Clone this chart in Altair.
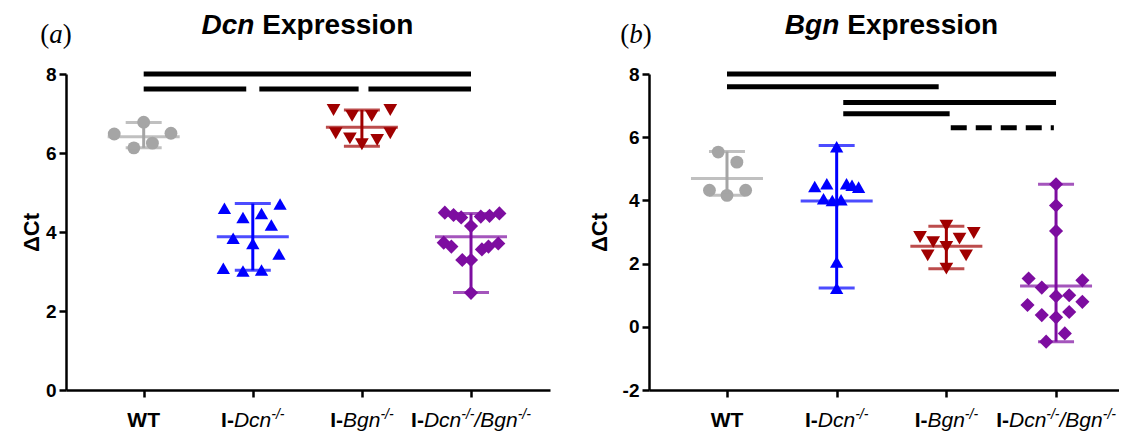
import altair as alt
import pandas as pd

# ---------------- data ----------------
groups = ["WT", "I-Dcn-/-", "I-Bgn-/-", "I-Dcn-/-/Bgn-/-"]
group_colors = ["#A5A5A5", "#0000FF", "#A00000", "#7D0DA0"]
group_shapes = ["circle", "triangle-up", "triangle-down", "diamond"]
group_sizes = [165, 200, 200, 175]

# Panel (a): Dcn expression (ΔCt) and horizontal scatter offsets (category units)
a_wt = [6.78, 6.48, 6.50, 6.13, 6.25]
a_wt_off = [0.0, -0.27, 0.25, -0.09, 0.08]
a_dcn = [4.60, 4.71, 4.37, 4.47, 4.18, 3.84, 3.71, 3.44, 3.08, 3.01, 3.04]
a_dcn_off = [-0.26, 0.25, -0.09, 0.08, 0.17, -0.18, 0.0, 0.24, -0.27, -0.09, 0.08]
a_bgn = [7.09, 6.94, 6.94, 7.09, 6.50, 6.37, 6.22, 6.33, 6.50]
a_bgn_off = [-0.26, -0.09, 0.09, 0.26, -0.24, -0.11, 0.0, 0.14, 0.26]
a_dkd = [4.49, 4.43, 4.37, 4.39, 4.41, 4.47, 4.15, 3.73, 3.63, 3.56, 3.63, 3.71, 3.29, 3.29, 2.46]
a_dkd_off = [-0.24, -0.16, -0.09, 0.09, 0.17, 0.26, 0.0, -0.25, -0.18, 0.10, 0.16, 0.25, -0.08, 0.0, 0.0]
a_center = [6.41, 3.88, 6.65, 3.88]
a_low = [6.13, 3.03, 6.17, 2.47]
a_high = [6.77, 4.72, 7.09, 4.47]
a_sig_start = [0, 0, 1.06, 2.06]
a_sig_end = [3, 0.94, 1.97, 3]
a_sig_level = [8.0, 7.62, 7.62, 7.62]
a_sig_style = ["solid", "solid", "solid", "solid"]

# Panel (b): Bgn expression (ΔCt)
b_wt = [5.53, 5.21, 4.32, 4.16, 4.32]
b_wt_off = [-0.08, 0.09, -0.16, 0.0, 0.17]
b_dcn = [4.44, 4.53, 4.53, 4.48, 4.42, 4.05, 4.00, 4.02, 5.70, 2.05, 1.22]
b_dcn_off = [-0.20, -0.09, 0.09, 0.14, 0.20, -0.12, -0.04, 0.04, 0.0, 0.0, 0.0]
b_bgn = [3.20, 2.84, 2.68, 2.79, 2.97, 2.26, 2.53, 2.26, 1.84]
b_bgn_off = [0.0, -0.24, -0.12, 0.12, 0.25, -0.17, 0.0, 0.18, 0.0]
b_dkd = [4.51, 3.84, 3.03, 1.53, 1.24, 1.47, 0.97, 1.00, 0.69, 0.79, 0.37, 0.47, 0.30, -0.21, -0.47]
b_dkd_off = [0.0, 0.0, 0.0, -0.25, -0.13, 0.24, 0.0, 0.12, -0.26, 0.24, -0.13, 0.12, 0.0, 0.08, -0.09]
b_center = [4.69, 3.98, 2.55, 1.29]
b_low = [4.16, 1.23, 1.84, -0.47]
b_high = [5.55, 5.74, 3.18, 4.51]
b_sig_start = [0, 0, 1.06, 1.06, 2.04]
b_sig_end = [3, 1.93, 3, 2.03, 2.98]
b_sig_level = [8.0, 7.6, 7.1, 6.74, 6.3]
b_sig_style = ["solid", "solid", "solid", "solid", "dash"]

SANS = "Liberation Sans"
SERIF = "Liberation Serif"

W_REG = {'W': .944, 'T': .611, 'I': .278, '-': .333, 'D': .722, 'c': .5, 'n': .556, 'B': .667,
         'g': .556, '/': .278, ' ': .278, 'E': .667, 'x': .5, 'p': .556,
         'r': .333, 'e': .556, 's': .5, 'i': .222, 'o': .556}
W_BOLD = {'W': .944, 'T': .611, 'I': .278, '-': .333, 'D': .722, 'c': .556, 'n': .611, 'B': .722,
          'g': .611, '/': .278, ' ': .278, 'E': .667, 'x': .556, 'p': .611,
          'r': .389, 'e': .556, 's': .556, 'i': .278, 'o': .611}
W_SERIF = {'(': .333, ')': .333, 'a': .5, 'b': .5}


def text_width(p):
    font = p.get("font", SANS)
    if font == SERIF:
        table = W_SERIF
    else:
        table = W_BOLD if p.get("weight", "normal") == "bold" else W_REG
    return sum(table.get(ch, .55) for ch in p["t"]) * p["size"] + p.get("gap", 0)


def rich_layers(parts, x_enc, anchor_df, ypx):
    widths = [text_width(p) for p in parts]
    start = -sum(widths) / 2
    layers = []
    for p, w in zip(parts, widths):
        layers.append(
            alt.Chart(anchor_df).mark_text(
                text=p["t"], align="left", baseline="alphabetic",
                dx=start + p.get("gap", 0), dy=-p.get("raise", 0),
                font=p.get("font", SANS), fontSize=p["size"],
                fontWeight=p.get("weight", "normal"), fontStyle=p.get("style", "normal"),
                color="black",
            ).encode(x=x_enc, y=alt.value(ypx))
        )
        start += w
    return layers


LAB = 21
SUP = 14
RAISE = 8


def bold(t):
    return {"t": t, "size": LAB, "weight": "bold"}


def ital(t):
    return {"t": t, "size": LAB, "style": "italic"}


def sup(t):
    return {"t": t, "size": SUP, "style": "italic", "raise": RAISE}


xlabel_parts = [
    [bold("WT")],
    [bold("I-"), ital("Dcn"), sup("-/-")],
    [bold("I-"), ital("Bgn"), sup("-/-")],
    [bold("I-"), ital("Dcn"), sup("-/-"), ital("/Bgn"), sup("-/-")],
]


def make_points(ys, offs):
    rows = []
    for gi, (yl, ol) in enumerate(zip(ys, offs)):
        for y, o in zip(yl, ol):
            rows.append({"group": groups[gi], "idx": gi, "off": o, "y": y})
    return pd.DataFrame(rows)


def panel(pts_df, center, low, high, s_start, s_end, s_level, s_style,
          ydomain, yvalues, width, xdomain, gene, tag, tag_px, title_x):
    height = 316
    xs = alt.Scale(domain=xdomain, nice=False, zero=False)
    ys = alt.Scale(domain=ydomain, nice=False, zero=False)
    color = alt.Color("group:N", scale=alt.Scale(domain=groups, range=group_colors), legend=None)

    xaxis = alt.Axis(values=[0, 1, 2, 3], labels=False, title=None, ticks=True, tickSize=7,
                     tickWidth=2.5, domainWidth=2.5, domainColor="black", tickColor="black",
                     grid=False)
    yaxis = alt.Axis(values=yvalues, title="ΔCt", titleX=title_x, titleY=height / 2,
                     titleAngle=270, titleAlign="center", titleBaseline="middle",
                     titleFont=SANS, titleFontSize=22, titleFontWeight="bold", titleColor="black",
                     labelFont=SANS, labelFontSize=19, labelFontWeight="bold", labelColor="black",
                     labelExpr="'' + datum.value",
                     labelPadding=3, tickSize=7, tickWidth=2.5, domainWidth=2.5,
                     domainColor="black", tickColor="black", grid=False)

    def X(f):
        return alt.X(f, type="quantitative", scale=xs, axis=xaxis)

    def Y(f):
        return alt.Y(f, type="quantitative", scale=ys, axis=yaxis)

    summary = pd.DataFrame({"group": groups, "idx": [0, 1, 2, 3],
                            "center": center, "low": low, "high": high})
    sig = pd.DataFrame({"start": s_start, "end": s_end, "level": s_level, "style": s_style})

    pts = alt.Chart(pts_df).transform_calculate(xp="datum.idx + datum.off").mark_point(
        filled=True, opacity=1, strokeWidth=0
    ).encode(
        x=X("xp"),
        y=Y("y"),
        color=color,
        shape=alt.Shape("group:N", scale=alt.Scale(domain=groups, range=group_shapes), legend=None),
        size=alt.Size("group:N", scale=alt.Scale(domain=groups, range=group_sizes), legend=None),
    )

    vline = alt.Chart(summary).mark_rule(strokeWidth=3).encode(
        x=X("idx"), y=Y("low"), y2="high:Q", color=color)
    caps = alt.Chart(summary).transform_fold(["low", "high"], as_=["end", "val"]).mark_tick(
        orient="horizontal", size=36, thickness=3
    ).encode(x=X("idx"), y=Y("val"), color=color)
    mean = alt.Chart(summary).mark_tick(orient="horizontal", size=72, thickness=3).encode(
        x=X("idx"), y=Y("center"), color=color)

    sig_rules = alt.Chart(sig).mark_rule(strokeWidth=5, color="black", strokeCap="butt").encode(
        x=X("start"), x2="end:Q",
        y=Y("level"),
        strokeDash=alt.StrokeDash("style:N", scale=alt.Scale(domain=["solid", "dash"],
                                                             range=[[1, 0], [16, 9]]),
                                  legend=None),
    )

    layers = [sig_rules, pts, vline, caps, mean]

    for gi, parts in enumerate(xlabel_parts):
        layers += rich_layers(parts, X("x"), pd.DataFrame({"x": [gi]}), height + 37)

    title_parts = [{"t": gene, "size": 28, "weight": "bold", "style": "italic"},
                   {"t": "Expression", "size": 28, "weight": "bold", "gap": 8}]
    layers += rich_layers(title_parts, X("x"), pd.DataFrame({"x": [1.5]}), -40)

    tag_parts = [{"t": "(", "size": 27, "font": SERIF},
                 {"t": tag, "size": 27, "font": SERIF, "style": "italic"},
                 {"t": ")", "size": 27, "font": SERIF}]
    layers += rich_layers(tag_parts, alt.value(tag_px), pd.DataFrame({"x": [0]}), -31)

    return alt.layer(*layers).properties(width=width, height=height)


pa = panel(make_points([a_wt, a_dcn, a_bgn, a_dkd], [a_wt_off, a_dcn_off, a_bgn_off, a_dkd_off]),
           a_center, a_low, a_high, a_sig_start, a_sig_end, a_sig_level, a_sig_style,
           [0, 8], [0, 2, 4, 6, 8], 484, [-0.712, 3.724], "Dcn", "a", -10, -35)
pb = panel(make_points([b_wt, b_dcn, b_bgn, b_dkd], [b_wt_off, b_dcn_off, b_bgn_off, b_dkd_off]),
           b_center, b_low, b_high, b_sig_start, b_sig_end, b_sig_level, b_sig_style,
           [-2, 8], [-2, 0, 2, 4, 6, 8], 470, [-0.711, 3.574], "Bgn", "b", -13, -50)

chart = alt.hconcat(pa, pb, spacing=99, bounds="flush").properties(
    padding={"left": 20, "top": 12, "right": 0, "bottom": 0},
    background="white",
).configure_view(stroke=None)

chart.save("out.html", embed_options={"renderer": "svg", "actions": False})
